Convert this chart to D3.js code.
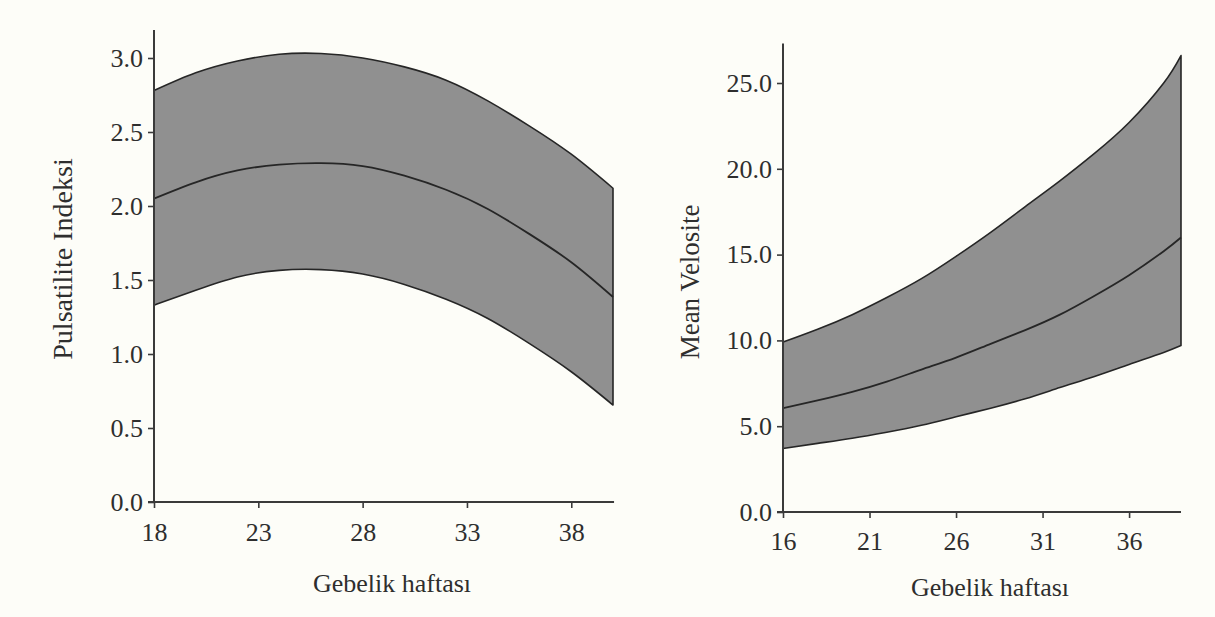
<!DOCTYPE html>
<html>
<head>
<meta charset="utf-8">
<script src="https://cdn.jsdelivr.net/npm/d3@7"></script>
<style>
  html, body { margin: 0; padding: 0; background: #fdfdf8; }
  svg { display: block; }
  text { font-family: "Liberation Serif", "Times New Roman", serif; fill: #2e2e2e; }
</style>
</head>
<body>
<svg id="chart" width="1215" height="617"></svg>
<script>
// ---- Data: Pulsatilite İndeksi (left panel) ----
const piWeeks = [18, 20, 22, 24, 26, 28, 30, 32, 34, 36, 38, 40];
const piUpper = [2.78, 2.90, 2.98, 3.025, 3.03, 3.00, 2.94, 2.85, 2.71, 2.54, 2.35, 2.12];
const piMean  = [2.05, 2.16, 2.24, 2.28, 2.29, 2.27, 2.205, 2.11, 1.98, 1.81, 1.62, 1.385];
const piLower = [1.33, 1.43, 1.52, 1.565, 1.57, 1.54, 1.47, 1.37, 1.24, 1.07, 0.88, 0.655];
const piXTicks = [18, 23, 28, 33, 38];
const piYTicks = [0, 0.5, 1.0, 1.5, 2.0, 2.5, 3.0];

// ---- Data: Mean Velosite (right panel) ----
const mvWeeks = [16, 18, 20, 22, 24, 26, 28, 30, 32, 34, 36, 38, 39];
const mvUpper = [9.9, 10.65, 11.5, 12.5, 13.6, 14.9, 16.3, 17.8, 19.3, 20.9, 22.7, 25.0, 26.6];
const mvMean  = [6.05, 6.5, 7.0, 7.6, 8.3, 9.0, 9.8, 10.6, 11.5, 12.6, 13.8, 15.2, 16.0];
const mvLower = [3.7, 4.0, 4.3, 4.65, 5.05, 5.55, 6.05, 6.6, 7.25, 7.9, 8.6, 9.3, 9.7];
const mvXTicks = [16, 21, 26, 31, 36];
const mvYTicks = [0, 5, 10, 15, 20, 25];

const xLabel = "Gebelik haftası";
const piYLabel = "Pulsatilite Indeksi";
const mvYLabel = "Mean Velosite";

const svg = d3.select("#chart");
const bandFill = "#909090";
const lineColor = "#262626";
const axisColor = "#3a3a3a";

function panel(cfg) {
  const g = svg.append("g");
  const x = d3.scaleLinear().domain(cfg.xDomain).range(cfg.xRange);
  const y = d3.scaleLinear().domain(cfg.yDomain).range(cfg.yRange);
  const rows = cfg.weeks.map((w, i) => ({ w, lo: cfg.lower[i], mid: cfg.mean[i], hi: cfg.upper[i] }));

  const area = d3.area().x(d => x(d.w)).y0(d => y(d.lo)).y1(d => y(d.hi)).curve(d3.curveNatural);
  g.append("path").datum(rows).attr("d", area)
    .attr("fill", bandFill).attr("stroke", lineColor).attr("stroke-width", 1.6).attr("stroke-linejoin", "round");

  const line = d3.line().x(d => x(d.w)).y(d => y(d.mid)).curve(d3.curveNatural);
  g.append("path").datum(rows).attr("d", line)
    .attr("fill", "none").attr("stroke", lineColor).attr("stroke-width", 1.8);

  // axes
  const yAxis = d3.axisLeft(y).tickValues(cfg.yTicks).tickFormat(d3.format(".1f")).tickSize(6).tickPadding(5);
  const gy = g.append("g").attr("transform", `translate(${cfg.xRange[0]},0)`).call(yAxis);
  const xAxis = d3.axisBottom(x).tickValues(cfg.xTicks).tickFormat(d3.format("d")).tickSize(6).tickPadding(cfg.xPad);
  const gx = g.append("g").attr("transform", `translate(0,${cfg.yRange[0]})`).call(xAxis);
  [gx, gy].forEach(a => {
    a.select(".domain").remove();
    a.selectAll(".tick line").attr("stroke", axisColor).attr("stroke-width", 1.6);
    a.selectAll(".tick text").style("font-family", "'Liberation Serif', serif").style("font-size", "26px").attr("fill", "#2e2e2e");
  });
  // axis lines
  g.append("line").attr("x1", cfg.xRange[0]).attr("x2", cfg.xRange[0])
    .attr("y1", y(cfg.yAxisTop)).attr("y2", cfg.yRange[0])
    .attr("stroke", axisColor).attr("stroke-width", 2);
  g.append("line").attr("x1", cfg.xRange[0] - 6).attr("x2", x(cfg.xAxisEnd))
    .attr("y1", cfg.yRange[0]).attr("y2", cfg.yRange[0])
    .attr("stroke", axisColor).attr("stroke-width", 2);

  // titles
  g.append("text").attr("x", cfg.xTitlePos[0]).attr("y", cfg.xTitlePos[1])
    .attr("text-anchor", "middle").style("font-size", "26px").text(xLabel);
  g.append("text").attr("transform", `translate(${cfg.yTitlePos[0]},${cfg.yTitlePos[1]}) rotate(-90)`)
    .attr("text-anchor", "middle").style("font-size", cfg.yTitleSize).text(cfg.yLabel);
}

panel({
  weeks: piWeeks, upper: piUpper, mean: piMean, lower: piLower,
  xDomain: [18, 40], xRange: [154, 613],
  yDomain: [0, 3], yRange: [502, 58],
  xTicks: piXTicks, yTicks: piYTicks, xPad: 15,
  yAxisTop: 3.19, xAxisEnd: 40.05,
  xTitlePos: [392, 592], yTitlePos: [72, 259], yLabel: piYLabel, yTitleSize: "28px"
});

panel({
  weeks: mvWeeks, upper: mvUpper, mean: mvMean, lower: mvLower,
  xDomain: [16, 39], xRange: [783, 1181],
  yDomain: [0, 25], yRange: [512, 83],
  xTicks: mvXTicks, yTicks: mvYTicks, xPad: 14,
  yAxisTop: 27.3, xAxisEnd: 39,
  xTitlePos: [990, 596], yTitlePos: [699, 282], yLabel: mvYLabel, yTitleSize: "27px"
});
</script>
</body>
</html>
